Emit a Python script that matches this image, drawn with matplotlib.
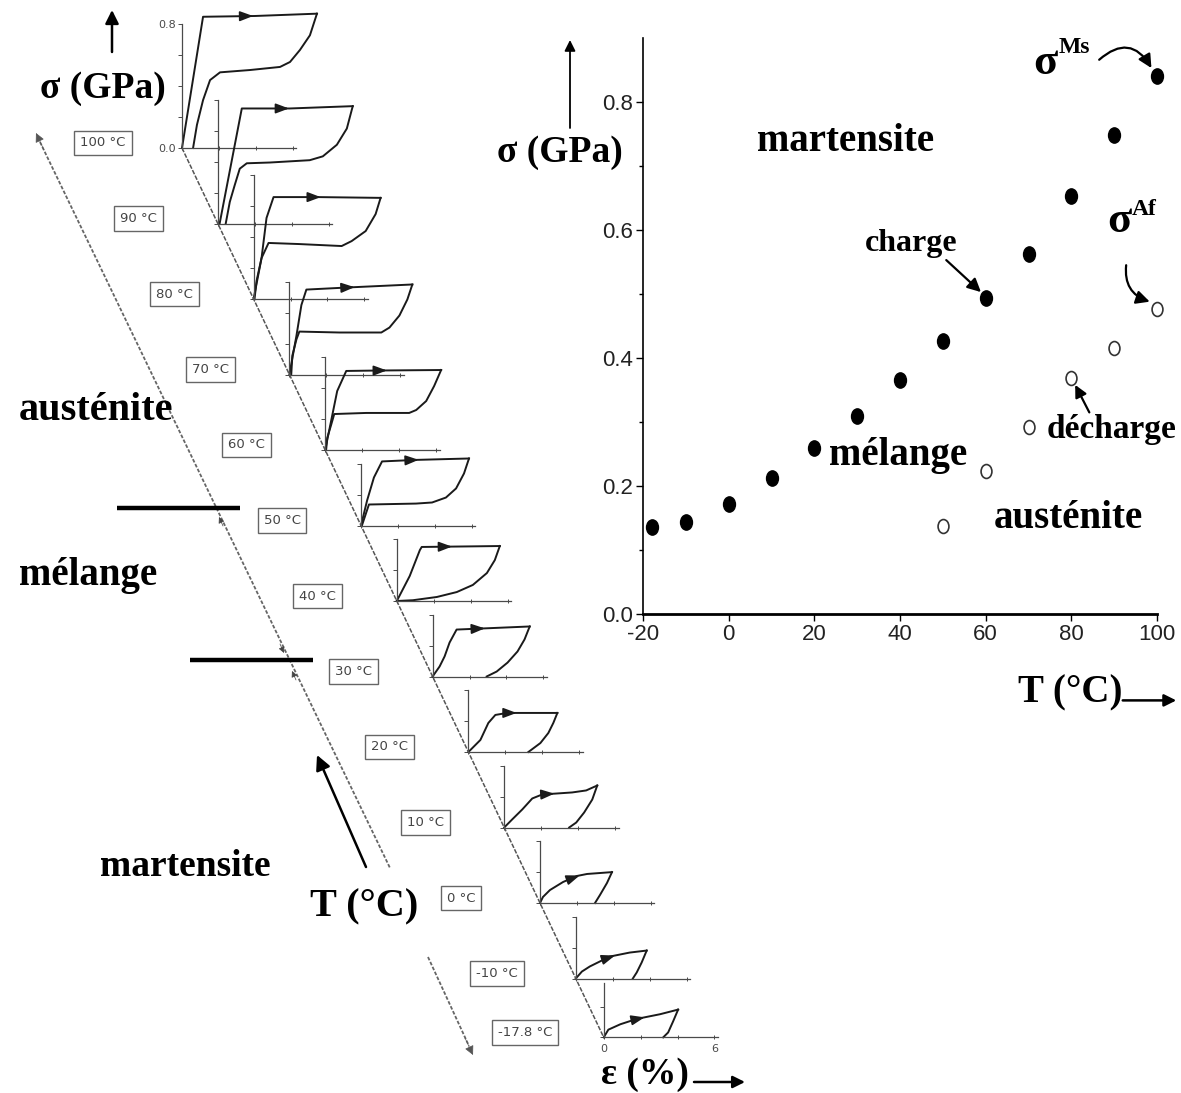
import numpy as np
import matplotlib
matplotlib.use("Agg")
import matplotlib.pyplot as plt
from matplotlib.path import Path

W, H = 1181, 1093
DPI = 100

# ---------------- right panel data ----------------
temp_charge = [-17.8, -10, 0, 10, 20, 30, 40, 50, 60, 70, 80, 90, 100]
sigma_charge = [0.136, 0.143, 0.172, 0.213, 0.259, 0.310, 0.365, 0.426, 0.493, 0.563, 0.653, 0.748, 0.841]
temp_decharge = [50, 60, 70, 80, 90, 100]
sigma_decharge = [0.137, 0.224, 0.292, 0.369, 0.416, 0.477]
right_xticks = [-20, 0, 20, 40, 60, 80, 100]
right_yticks = [0.0, 0.2, 0.4, 0.6, 0.8]
right_yminor = [0.1, 0.3, 0.5, 0.7]

# ---------------- left panel data ----------------
curve_temps = [100, 90, 80, 70, 60, 50, 40, 30, 20, 10, 0, -10, -17.8]
curve_labels = ["100 °C", "90 °C", "80 °C", "70 °C", "60 °C", "50 °C", "40 °C",
                "30 °C", "20 °C", "10 °C", "0 °C", "-10 °C", "-17.8 °C"]
axis_top = [0.8, 0.8, 0.8, 0.6, 0.6, 0.4, 0.4, 0.4, 0.4, 0.4, 0.4, 0.4, 0.35]

loading_strain = {
    100: [0, 1.14, 3.95, 7.31],
    90: [0.1, 1.3, 3.9, 7.31],
    80: [0, 0.43, 0.7, 1.08, 3.5, 6.88],
    70: [0, 0.38, 0.65, 0.92, 3.4, 6.66],
    60: [0, 0.32, 0.65, 1.14, 3.0, 6.28],
    50: [0, 0.33, 0.7, 1.14, 3.0, 5.85],
    40: [0, 0.7, 1.25, 1.35, 5.58],
    30: [0, 0.38, 0.65, 0.92, 1.3, 5.26],
    20: [0, 0.65, 1.08, 1.46, 2.1, 4.82],
    10: [0, 0.43, 0.98, 1.52, 2.06, 2.82, 3.68, 4.44, 5.04],
    0: [0, 0.16, 0.54, 1.25, 2.0, 2.55, 3.9],
    -10: [0, 0.33, 0.76, 1.84, 2.92, 3.84],
    -17.8: [0, 0.25, 0.9, 1.8, 3.05, 4.03],
}
loading_stress = {
    100: [0, 0.85, 0.855, 0.87],
    90: [0, 0.745, 0.745, 0.76],
    80: [0, 0.265, 0.525, 0.66, 0.66, 0.655],
    70: [0, 0.25, 0.45, 0.55, 0.565, 0.583],
    60: [0, 0.188, 0.382, 0.512, 0.515, 0.518],
    50: [0, 0.162, 0.311, 0.415, 0.425, 0.434],
    40: [0, 0.162, 0.33, 0.35, 0.356],
    30: [0, 0.065, 0.13, 0.22, 0.304, 0.324],
    20: [0, 0.078, 0.188, 0.24, 0.253, 0.253],
    10: [0, 0.052, 0.117, 0.188, 0.214, 0.22, 0.227, 0.24, 0.272],
    0: [0, 0.039, 0.084, 0.136, 0.175, 0.188, 0.2],
    -10: [0, 0.045, 0.078, 0.142, 0.168, 0.181],
    -17.8: [0, 0.05, 0.085, 0.12, 0.15, 0.18],
}
unloading_strain = {
    100: [7.31, 6.93, 6.39, 5.85, 5.31, 3.68, 2.06, 1.52, 1.14, 0.81, 0.6],
    90: [7.31, 6.99, 6.45, 5.69, 4.98, 2.82, 1.57, 1.19, 0.92, 0.65, 0.43],
    80: [6.88, 6.61, 6.07, 5.31, 4.77, 2.44, 0.81, 0.43, 0.16, 0.05],
    70: [6.66, 6.39, 5.96, 5.42, 4.98, 2.71, 0.54, 0.38, 0.16, 0.1],
    60: [6.28, 5.9, 5.47, 4.93, 4.55, 2.22, 0.49, 0.32, 0.11, 0.05],
    50: [5.85, 5.58, 5.15, 4.6, 3.85, 2.98, 0.43, 0.05],
    40: [5.58, 5.31, 4.88, 4.12, 3.25, 2.17, 0.87, 0],
    30: [5.26, 4.98, 4.6, 4.06, 3.47, 2.93],
    20: [4.82, 4.6, 4.33, 3.9, 3.25],
    10: [5.04, 4.77, 4.33, 3.9, 3.52],
    0: [3.9, 3.63, 3.25, 2.98],
    -10: [3.84, 3.57, 3.3, 3.09],
    -17.8: [4.03, 3.76, 3.49, 3.22],
}
unloading_stress = {
    100: [0.87, 0.73, 0.635, 0.557, 0.525, 0.505, 0.49, 0.44, 0.31, 0.15, 0.0],
    90: [0.76, 0.615, 0.51, 0.435, 0.41, 0.395, 0.39, 0.355, 0.25, 0.14, 0.0],
    80: [0.655, 0.55, 0.44, 0.375, 0.343, 0.356, 0.363, 0.265, 0.117, 0.0],
    70: [0.583, 0.486, 0.382, 0.304, 0.272, 0.272, 0.278, 0.227, 0.123, 0.0],
    60: [0.518, 0.414, 0.317, 0.259, 0.24, 0.24, 0.233, 0.162, 0.078, 0.0],
    50: [0.434, 0.337, 0.24, 0.181, 0.149, 0.142, 0.136, 0.0],
    40: [0.356, 0.265, 0.181, 0.104, 0.058, 0.026, 0.005, 0.0],
    30: [0.324, 0.24, 0.162, 0.09, 0.032, 0.0],
    20: [0.253, 0.188, 0.123, 0.058, 0.0],
    10: [0.272, 0.181, 0.097, 0.032, 0.0],
    0: [0.2, 0.13, 0.052, 0.0],
    -10: [0.181, 0.104, 0.039, 0.0],
    -17.8: [0.18, 0.104, 0.032, 0.0],
}

# ---------------- layout (pixels, y from top) ----------------
ORIGIN0 = (182.0, 148.0)        # origin of the 100 °C curve
STEP = (3.58, 7.55)              # pixel shift per °C
PX_PER_EPS = 18.46               # px per % strain
PX_PER_SIG = 154.4               # px per GPa
EPS_SPAN, SIG_SPAN = 6.5, 0.9
LABEL_OFF = (-79.0, -5.0)
RIGHT_AX = (643, 38, 1157, 614)  # left, top, right, bottom in px

SERIF = ["Liberation Serif", "DejaVu Serif"]
TICKFONT = ["Liberation Sans Narrow", "Liberation Sans", "DejaVu Sans"]
GRAY = "#4a4a4a"


def origin_px(t):
    return ORIGIN0[0] + (100 - t) * STEP[0], ORIGIN0[1] + (100 - t) * STEP[1]


fig = plt.figure(figsize=(W / DPI, H / DPI), dpi=DPI)
fig.patch.set_facecolor("white")

# ---------------- left panel: small stress-strain diagrams ----------------
for t, lab, top in zip(curve_temps, curve_labels, axis_top):
    ox, oy = origin_px(t)
    ax = fig.add_axes([ox / W, 1 - oy / H, EPS_SPAN * PX_PER_EPS / W, SIG_SPAN * PX_PER_SIG / H])
    ax.set_facecolor("none")
    ax.set_xlim(0, EPS_SPAN)
    ax.set_ylim(0, SIG_SPAN)
    for s in ("top", "right"):
        ax.spines[s].set_visible(False)
    ax.spines["left"].set_bounds(0, top)
    ax.spines["bottom"].set_bounds(0, 6.2)
    for s in ("left", "bottom"):
        ax.spines[s].set_color(GRAY)
        ax.spines[s].set_linewidth(0.9)
    ax.set_yticks(np.arange(0, top + 1e-6, 0.2))
    ax.set_xticks([0, 2, 4, 6])
    ax.tick_params(axis="y", direction="out", length=3, width=0.7, colors=GRAY,
                   labelsize=8, pad=1.5)
    ax.tick_params(axis="x", direction="inout", length=3, width=0.7, colors=GRAY,
                   labelsize=8, pad=3)
    if t == 100:
        ax.set_yticklabels(["0.0"] + [""] * 3 + ["0.8"])
    else:
        ax.tick_params(axis="y", labelleft=False)
    if t == -17.8:
        ax.set_xticklabels(["0", "", "", "6"])
    else:
        ax.tick_params(axis="x", labelbottom=False)

    le, ls = loading_strain[t], loading_stress[t]
    ue, us = unloading_strain[t], unloading_stress[t]
    ax.plot(le, ls, color="#1a1a1a", lw=1.4, clip_on=False, solid_joinstyle="round")
    ax.plot(ue, us, color="#1a1a1a", lw=1.4, clip_on=False, solid_joinstyle="round")
    em = 0.5 * max(le)
    ax.annotate("", xy=(em + 0.2, np.interp(em + 0.2, le, ls)),
                xytext=(em - 0.3, np.interp(em - 0.3, le, ls)),
                arrowprops=dict(arrowstyle="-|>,head_length=0.8,head_width=0.3",
                                color="#1a1a1a", lw=1.2, shrinkA=0, shrinkB=0),
                annotation_clip=False)

# ---------------- right panel ----------------
l, tp, r, b = RIGHT_AX
axr = fig.add_axes([l / W, 1 - b / H, (r - l) / W, (b - tp) / H])
axr.set_facecolor("none")
axr.set_xlim(-20, 100)
axr.set_ylim(0, 0.9)
for s in ("top", "right"):
    axr.spines[s].set_visible(False)
axr.spines["left"].set_linewidth(1.2)
axr.spines["bottom"].set_linewidth(2.0)
axr.set_xticks(right_xticks)
axr.set_yticks(right_yticks)
axr.set_yticks(right_yminor, minor=True)
axr.set_xticklabels([str(v) for v in right_xticks])
axr.set_yticklabels([f"{v:.1f}" for v in right_yticks])
axr.tick_params(axis="both", which="major", direction="out", length=5, width=1.0,
                labelsize=16, pad=2)
axr.tick_params(axis="y", which="minor", direction="out", length=3, width=1.0)
for lbl in axr.get_xticklabels() + axr.get_yticklabels():
    lbl.set_family(TICKFONT)
    lbl.set_color("#222222")

circ = Path.unit_circle()
oval = Path(circ.vertices * np.array([0.78, 1.0]), circ.codes)
axr.plot(temp_charge, sigma_charge, linestyle="none", marker=oval, markersize=11,
         color="black", clip_on=False)
axr.plot(temp_decharge, sigma_decharge, linestyle="none", marker=oval, markersize=10,
         markerfacecolor="white", markeredgecolor="#333333", markeredgewidth=1.2,
         clip_on=False)


def rtext(tx, sy, s, size=28, ha="center", va="center"):
    axr.text(tx, sy, s, ha=ha, va=va, fontsize=size, fontweight="bold", family=SERIF,
             color="black", clip_on=False)


def rarrow(p0, p1, lw=1.6, ms=20, rad=0.0):
    axr.annotate("", xy=p1, xytext=p0, annotation_clip=False,
                 arrowprops=dict(arrowstyle="-|>", color="black", lw=lw, mutation_scale=ms,
                                 shrinkA=0, shrinkB=0, connectionstyle=f"arc3,rad={rad}"))


rtext(27.4, 0.739, "martensite")
rtext(42.5, 0.579, "charge", size=23)
rarrow((50.8, 0.553), (58.9, 0.503))
rtext(74.0, 0.843, "σ", size=32, va="baseline")
rtext(77.0, 0.876, "Ms", size=17, ha="left", va="baseline")
rarrow((86.5, 0.866), (98.7, 0.853), rad=-0.6)
rtext(91.2, 0.597, "σ", size=32, va="baseline")
rtext(94.1, 0.624, "Af", size=17, ha="left", va="baseline")
rarrow((92.8, 0.545), (98.3, 0.488), rad=0.4)
rtext(39.6, 0.248, "mélange")
rtext(89.5, 0.289, "décharge", size=24)
rarrow((84.2, 0.315), (80.9, 0.358), ms=18)
rtext(79.2, 0.149, "austénite")
rtext(79.8, -0.123, "T (°C)")
rarrow((92.0, -0.135), (104.5, -0.135), lw=1.8, ms=18)

# ---------------- overlay for annotations (pixel coordinates) ----------------
ov = fig.add_axes([0, 0, 1, 1])
ov.set_xlim(0, W)
ov.set_ylim(H, 0)
ov.axis("off")


def arrow(p0, p1, lw=1.6, color="black", ms=18, rad=0.0, style="-|>"):
    ov.annotate("", xy=p1, xytext=p0,
                arrowprops=dict(arrowstyle=style, color=color, lw=lw, mutation_scale=ms,
                                shrinkA=0, shrinkB=0,
                                connectionstyle=f"arc3,rad={rad}"))


def btext(x, y, s, size=28, ha="center", va="center"):
    ov.text(x, y, s, ha=ha, va=va, fontsize=size, fontweight="bold", family=SERIF,
            color="black")


# diagonal through curve origins
o_top, o_bot = origin_px(100), origin_px(-17.8)
ov.plot([o_top[0], o_bot[0]], [o_top[1], o_bot[1]], color="#555555", lw=1.1,
        linestyle=(0, (3, 1)))

# temperature labels in boxes
for t, lab in zip(curve_temps, curve_labels):
    ox, oy = origin_px(t)
    ov.text(ox + LABEL_OFF[0], oy + LABEL_OFF[1], lab, ha="center", va="center",
            fontsize=9.5, color="#444444", family="DejaVu Sans",
            bbox=dict(boxstyle="square,pad=0.45", fc="white", ec="#666666", lw=1.0))

# long temperature axis (double arrow, broken around the label)
ov.plot([40, 390], [142, 868], color="#666666", lw=1.3, linestyle=(0, (2, 1)))
ov.plot([428, 469], [957, 1046], color="#666666", lw=1.3, linestyle=(0, (2, 1)))
arrow((44, 150), (36, 133), lw=0.5, color="#555555", ms=14)
arrow((465, 1038), (473, 1055), lw=0.5, color="#555555", ms=14)
arrow((223, 526), (219, 517), lw=0.5, color="#444444", ms=9)
arrow((280, 644), (284, 653), lw=0.5, color="#444444", ms=9)
arrow((296, 680), (292, 671), lw=0.5, color="#444444", ms=9)
# phase limit bars
ov.plot([117, 240], [508, 508], color="black", lw=3.2, solid_capstyle="butt")
ov.plot([190, 313], [660, 660], color="black", lw=3.2, solid_capstyle="butt")

# left texts
btext(103, 88, "σ (GPa)", size=27)
arrow((112, 52), (112, 10), lw=1.8, ms=20)
btext(96, 410, "austénite", size=29)
btext(88, 576, "mélange", size=28)
btext(185, 867, "martensite", size=27)
btext(364, 907, "T (°C)", size=29)
arrow((366, 867), (317, 755), lw=1.8, ms=22)
btext(645, 1075, "ε (%)", size=27)
arrow((694, 1082), (745, 1082), lw=1.8, ms=18)

# right y label
btext(560, 152, "σ (GPa)", size=27)
arrow((570, 128), (570, 40), lw=1.3, ms=16)

fig.savefig("out.png", dpi=DPI, facecolor="white")
